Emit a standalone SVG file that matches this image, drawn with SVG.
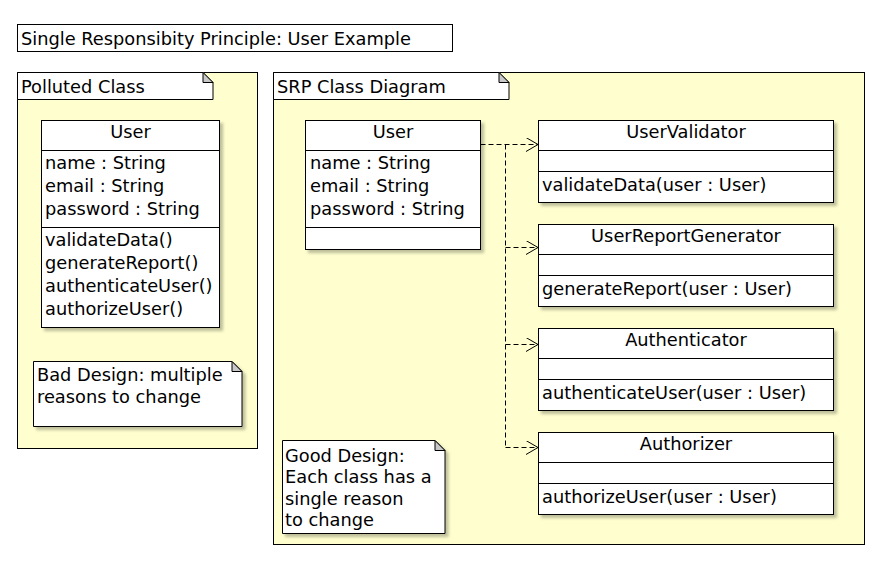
<svg xmlns="http://www.w3.org/2000/svg" width="887" height="569" viewBox="0 0 887 569">
<defs>
<filter id="sh" x="-10%" y="-10%" width="130%" height="130%">
<feDropShadow dx="3" dy="3" stdDeviation="1.5" flood-color="#000" flood-opacity="0.25"/>
</filter>
<marker id="arr" markerWidth="14" markerHeight="16" refX="12" refY="7" orient="auto" markerUnits="userSpaceOnUse">
<path d="M0,0 L12,7 L0,14" fill="none" stroke="#000" stroke-width="1"/>
</marker>
<style>
text{font-family:"DejaVu Sans","Liberation Sans",sans-serif;font-size:17.8px;fill:#000}
.c{text-anchor:middle}
.box{fill:#fff;stroke:#000;stroke-width:1}
.pkg{fill:#FEFECE;stroke:#000;stroke-width:1}
.ln{stroke:#000;stroke-width:1;fill:none}
.fold{fill:#C8C8C8;stroke:#000;stroke-width:1}
.dep{stroke:#000;stroke-width:1;fill:none;stroke-dasharray:5,3}
</style>
</defs>
<rect width="887" height="569" fill="#fff"/>

<g id="title">
<rect x="17.5" y="24.5" width="435" height="27" class="box"/>
<text x="21" y="45">Single Responsibity Principle: User Example</text>
</g>

<g id="polluted">
<rect x="17.5" y="72.5" width="240" height="376" class="pkg"/>
<path d="M17.5,72.5 H203 L213,82.5 V99.5 H17.5 Z" class="box"/>
<path d="M203,72.5 V82.5 H213 Z" class="fold"/>
<text x="21" y="92.5">Polluted Class</text>
</g>

<g id="srp">
<rect x="273.5" y="72.5" width="591" height="472" class="pkg"/>
<path d="M273.5,72.5 H499 L509,82.5 V99.5 H273.5 Z" class="box"/>
<path d="M499,72.5 V82.5 H509 Z" class="fold"/>
<text x="277" y="92.5">SRP Class Diagram</text>
</g>

<g id="pollutedUser">
<rect x="41.5" y="120.5" width="178" height="207" class="box" filter="url(#sh)"/>
<line x1="41.5" y1="150.5" x2="219.5" y2="150.5" class="ln"/>
<line x1="41.5" y1="227.5" x2="219.5" y2="227.5" class="ln"/>
<text x="130.5" y="138" class="c">User</text>
<text x="45" y="169">name : String</text>
<text x="45" y="192">email : String</text>
<text x="45" y="215">password : String</text>
<text x="45" y="245.5">validateData()</text>
<text x="45" y="268.5">generateReport()</text>
<text x="45" y="291.5">authenticateUser()</text>
<text x="45" y="314.5">authorizeUser()</text>
</g>

<g id="badNote">
<path d="M33.5,361.5 H232 L242,371.5 V426.5 H33.5 Z" class="box" filter="url(#sh)"/>
<path d="M232,361.5 V371.5 H242 Z" class="fold"/>
<text x="37" y="381">Bad Design: multiple</text>
<text x="37" y="403">reasons to change</text>
</g>

<g id="srpUser">
<rect x="305.5" y="120.5" width="175" height="129" class="box" filter="url(#sh)"/>
<line x1="305.5" y1="150.5" x2="480.5" y2="150.5" class="ln"/>
<line x1="305.5" y1="227.5" x2="480.5" y2="227.5" class="ln"/>
<text x="393" y="138" class="c">User</text>
<text x="310" y="169">name : String</text>
<text x="310" y="192">email : String</text>
<text x="310" y="215">password : String</text>
</g>

<g id="UserValidator">
<rect x="538.5" y="120.5" width="295" height="82" class="box" filter="url(#sh)"/>
<line x1="538.5" y1="150.5" x2="833.5" y2="150.5" class="ln"/>
<line x1="538.5" y1="171.5" x2="833.5" y2="171.5" class="ln"/>
<text x="686" y="138" class="c">UserValidator</text>
<text x="542" y="191">validateData(user : User)</text>
</g>

<g id="UserReportGenerator">
<rect x="538.5" y="224.5" width="295" height="82" class="box" filter="url(#sh)"/>
<line x1="538.5" y1="254.5" x2="833.5" y2="254.5" class="ln"/>
<line x1="538.5" y1="275.5" x2="833.5" y2="275.5" class="ln"/>
<text x="686" y="242" class="c">UserReportGenerator</text>
<text x="542" y="295">generateReport(user : User)</text>
</g>

<g id="Authenticator">
<rect x="538.5" y="328.5" width="295" height="82" class="box" filter="url(#sh)"/>
<line x1="538.5" y1="358.5" x2="833.5" y2="358.5" class="ln"/>
<line x1="538.5" y1="379.5" x2="833.5" y2="379.5" class="ln"/>
<text x="686" y="346" class="c">Authenticator</text>
<text x="542" y="399">authenticateUser(user : User)</text>
</g>

<g id="Authorizer">
<rect x="538.5" y="432.5" width="295" height="82" class="box" filter="url(#sh)"/>
<line x1="538.5" y1="462.5" x2="833.5" y2="462.5" class="ln"/>
<line x1="538.5" y1="483.5" x2="833.5" y2="483.5" class="ln"/>
<text x="686" y="450" class="c">Authorizer</text>
<text x="542" y="503">authorizeUser(user : User)</text>
</g>

<g id="goodNote">
<path d="M282.5,440.5 H435 L445,450.5 V533.5 H282.5 Z" class="box" filter="url(#sh)"/>
<path d="M435,440.5 V450.5 H445 Z" class="fold"/>
<text x="285" y="461.5">Good Design:</text>
<text x="285" y="483">Each class has a</text>
<text x="285" y="504.5">single reason</text>
<text x="285" y="526">to change</text>
</g>

<g id="connectors">
<path d="M480.5,144.5 H538" class="dep" marker-end="url(#arr)"/>
<path d="M505.5,144.5 V447.5" class="dep"/>
<path d="M505.5,247.5 H538" class="dep" marker-end="url(#arr)"/>
<path d="M505.5,344.5 H538" class="dep" marker-end="url(#arr)"/>
<path d="M505.5,447.5 H538" class="dep" marker-end="url(#arr)"/>
</g>
</svg>
